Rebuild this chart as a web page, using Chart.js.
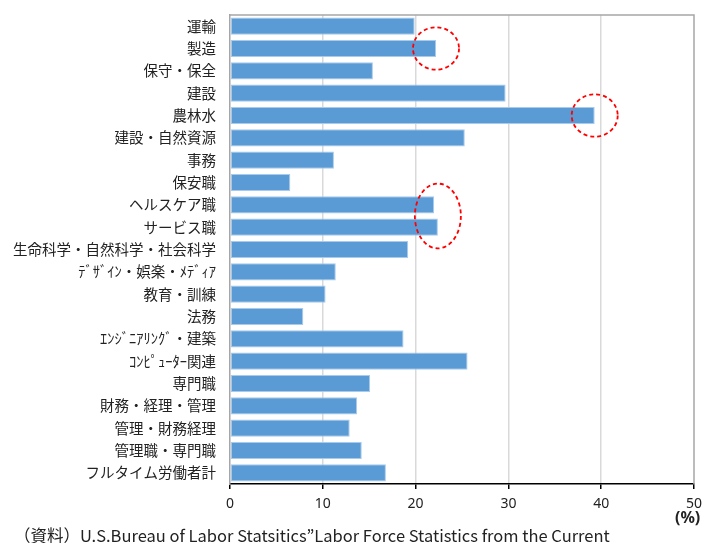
<!DOCTYPE html>
<html>
<head>
<meta charset="utf-8">
<script src="https://cdn.jsdelivr.net/npm/chart.js@4"></script>
<style>
html,body{margin:0;padding:0;background:#fff;}
#wrap{position:relative;width:705px;height:543px;overflow:hidden;}
#src{position:absolute;left:14px;top:525px;line-height:20px;font-family:"Noto Sans CJK JP","Noto Sans",sans-serif;font-size:16.5px;color:#222;white-space:nowrap;}
#pct{position:absolute;left:675px;top:508px;line-height:18px;font-family:"Noto Sans","Liberation Sans",sans-serif;font-size:16px;font-weight:bold;color:#222;}
</style>
</head>
<body>
<div id="wrap">
<canvas id="c" width="705" height="543"></canvas>
<div id="pct">(%)</div>
<div id="src">（資料）U.S.Bureau of Labor Statsitics”Labor Force Statistics from the Current</div>
</div>
<script>
const categories = ["運輸","製造","保守・保全","建設","農林水","建設・自然資源","事務","保安職","ヘルスケア職","サービス職","生命科学・自然科学・社会科学","ﾃﾞｻﾞｲﾝ・娯楽・ﾒﾃﾞｨｱ","教育・訓練","法務","ｴﾝｼﾞﾆｱﾘﾝｸﾞ・建築","ｺﾝﾋﾟｭｰﾀｰ関連","専門職","財務・経理・管理","管理・財務経理","管理職・専門職","フルタイム労働者計"];
const values = [19.9, 22.2, 15.4, 29.7, 39.3, 25.3, 11.2, 6.5, 22.0, 22.4, 19.2, 11.4, 10.3, 7.9, 18.7, 25.6, 15.1, 13.7, 12.9, 14.2, 16.8];
const xTicks = [0, 10, 20, 30, 40, 50];
const highlightGroups = [[1], [4], [8, 9]];

const ellipsePlugin = {
  id: 'ellipses',
  afterDatasetsDraw(chart) {
    const ctx = chart.ctx, xs = chart.scales.x, ys = chart.scales.y;
    const catH = (ys.getPixelForValue(1) - ys.getPixelForValue(0));
    ctx.save();
    ctx.strokeStyle = '#FF0000';
    ctx.lineWidth = 1.8;
    ctx.setLineDash([4, 3]);
    highlightGroups.forEach(g => {
      const mx = Math.max(...g.map(i => values[i]));
      const cx = xs.getPixelForValue(mx);
      const cy = g.reduce((s, i) => s + ys.getPixelForValue(i), 0) / g.length;
      const rx = 23;
      const ry = (g.length * 0.5 + 0.45) * catH;
      ctx.beginPath();
      ctx.ellipse(cx, cy, rx, ry, 0, 0, Math.PI * 2);
      ctx.stroke();
    });
    ctx.restore();
  }
};

const framePlugin = {
  id: 'frame',
  beforeDatasetsDraw(chart) {
    const a = chart.chartArea, ctx = chart.ctx;
    ctx.save();
    ctx.strokeStyle = '#A6A6A6';
    ctx.lineWidth = 1.5;
    ctx.beginPath();
    ctx.moveTo(a.left, a.top);
    ctx.lineTo(a.right, a.top);
    ctx.lineTo(a.right, a.bottom);
    ctx.stroke();
    ctx.restore();
  }
};

new Chart(document.getElementById('c'), {
  type: 'bar',
  data: {
    labels: categories,
    datasets: [{
      data: values,
      backgroundColor: '#5B9BD5',
      borderColor: '#A9CBEB',
      borderWidth: 1,
      borderSkipped: false,
      barPercentage: 0.77,
      categoryPercentage: 1.0
    }]
  },
  options: {
    indexAxis: 'y',
    responsive: false,
    animation: false,
    devicePixelRatio: 1,
    layout: { padding: { left: 0, top: 15, right: 11, bottom: 0 } },
    plugins: { legend: { display: false }, tooltip: { enabled: false } },
    scales: {
      x: {
        min: 0, max: 50,
        afterBuildTicks(s) { s.ticks = xTicks.map(v => ({ value: v })); },
        afterFit(s) { s.height = 59; s.paddingLeft = 0; s.paddingRight = 0; },
        grid: {
          color: ctx => (ctx.tick && (ctx.tick.value === 0 || ctx.tick.value === 50)) ? 'rgba(0,0,0,0)' : '#D9D9D9',
          lineWidth: 1.5,
          drawTicks: true,
          tickLength: 5,
          tickColor: '#000'
        },
        border: { color: '#000', width: 1.5 },
        ticks: {
          color: '#222',
          padding: 7,
          maxRotation: 0,
          font: { family: '"Noto Sans","Liberation Sans",sans-serif', size: 14 }
        }
      },
      y: {
        afterFit(s) { s.width = 230; s.paddingTop = 0; s.paddingBottom = 0; },
        grid: { display: false, drawTicks: false },
        border: { color: '#A6A6A6', width: 1.5 },
        ticks: {
          color: '#222',
          padding: 14,
          autoSkip: false,
          font: { family: '"Noto Sans CJK JP",sans-serif', size: 14.5 }
        }
      }
    }
  },
  plugins: [framePlugin, ellipsePlugin]
});
</script>
</body>
</html>
